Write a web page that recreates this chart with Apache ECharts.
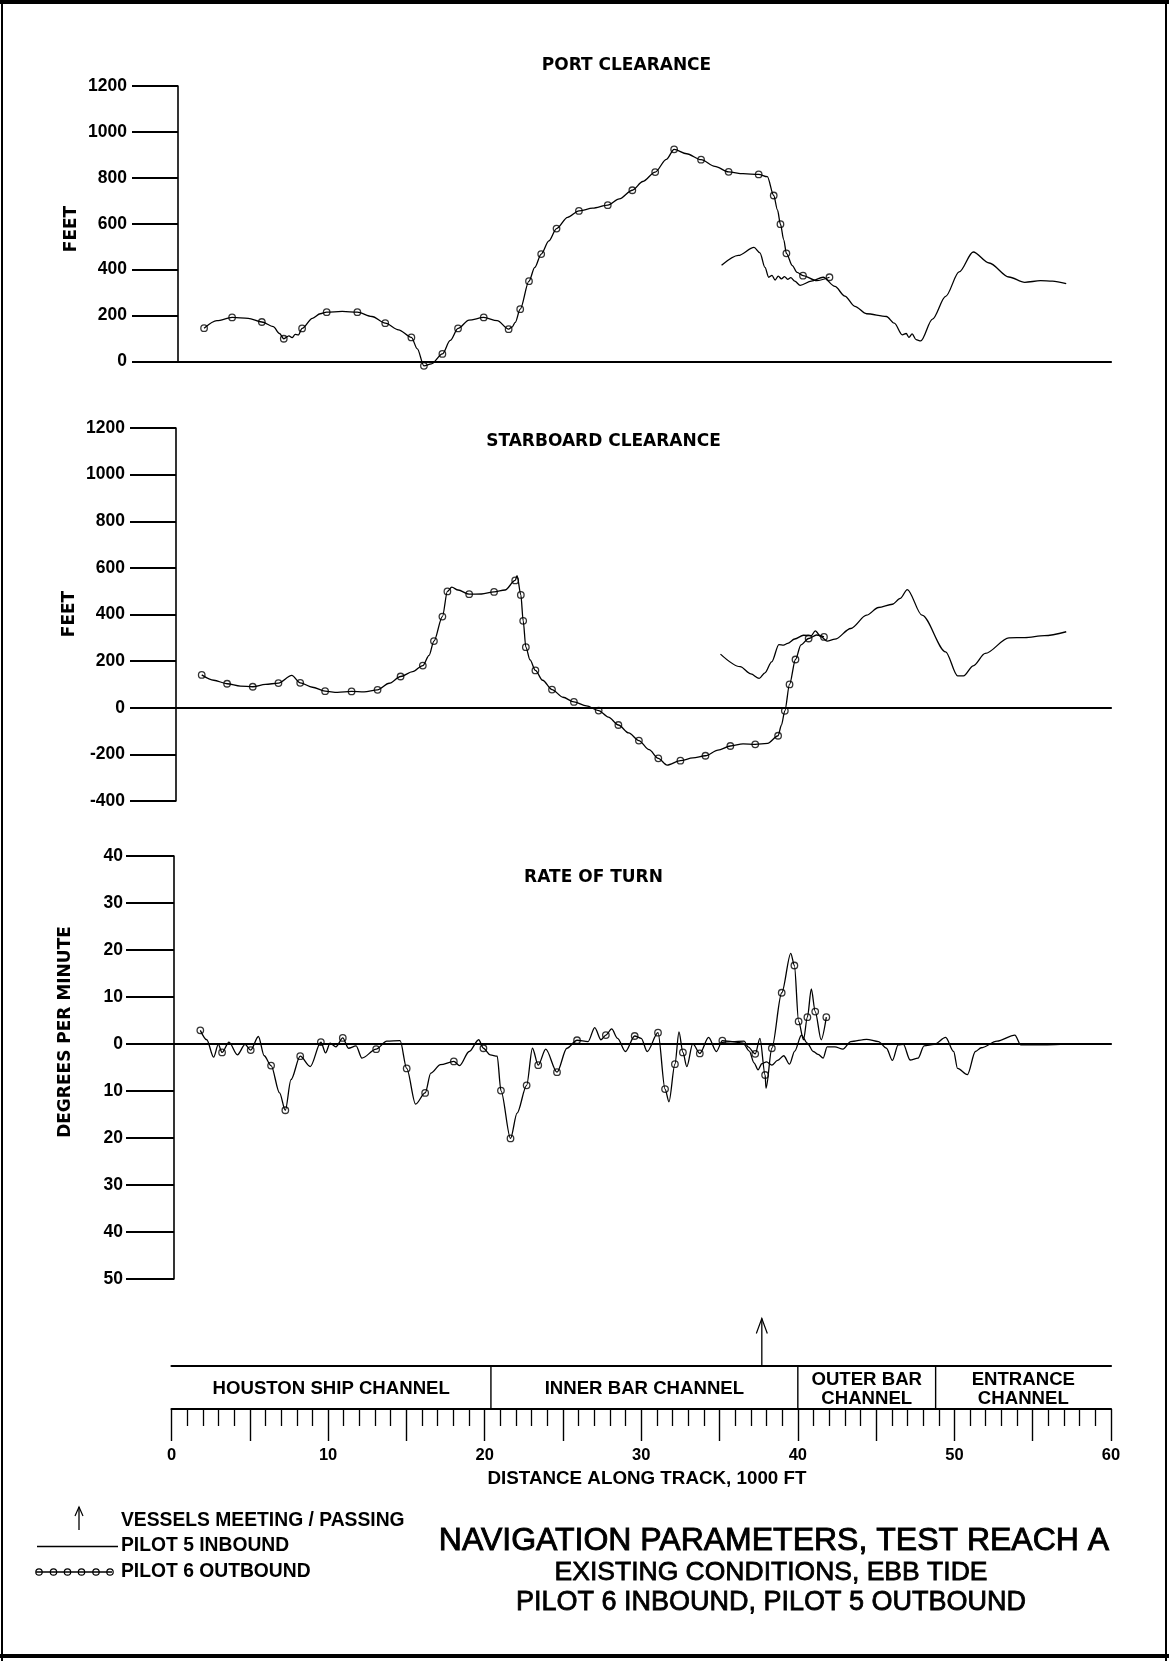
<!DOCTYPE html>
<html>
<head>
<meta charset="utf-8">
<script src="https://cdn.jsdelivr.net/npm/echarts@6/dist/echarts.min.js"></script>
<style>
  html, body { margin: 0; padding: 0; background: #fff; }
  #chart { width: 1169px; height: 1661px; }
</style>
</head>
<body>
<div id="chart"></div>
<script>
// Distance along track is in 1000 ft. Each curve is [distance, value].

// ---- Port clearance (feet) ----
const port6Marks = [
  [2.08,145],[3.87,192],[5.77,172],[7.17,99],[8.34,144],[9.91,215],[11.87,215],[13.65,167],
  [15.32,105],[16.12,-19],[17.3,33],[18.3,144],[19.94,192],[21.53,141],[22.27,228],[22.83,350],
  [23.61,468],[24.59,579],[26.02,656],[27.86,681],[29.43,746],[30.89,825],[32.1,924],[33.82,879],
  [35.58,826],[37.5,815],[38.46,723],[38.89,598],[39.27,471],[40.33,374],[42.02,367]
];
const port6Between = [
  [2.9,178],[4.9,188],[6.5,152],[6.9,122],[7.5,112],[7.7,104],[7.9,118],[8.1,116],[9.0,188],
  [9.5,208],[10.9,218],[12.8,196],[14.5,138],[15.7,55],[16.6,-10],[17.8,92],[19.0,180],[20.8,178],
  [21.75,150],[21.95,170],[23.2,410],[24.1,525],[25.3,628],[26.9,668],[28.6,708],[30.1,784],
  [31.6,880],[32.9,905],[34.7,850],[36.5,818],[38.05,805],[38.7,660],[39.1,530],[39.65,418],
  [39.95,388],[41.2,352]
];
const port5 = [
  [35.13,419],[36.2,462],[37.2,497],[37.58,473],[37.9,410],[38.14,367],[38.35,375],[38.55,355],
  [38.75,372],[38.95,360],[39.15,370],[39.35,358],[39.55,365],[39.8,350],[40.15,332],[40.86,350],
  [41.62,367],[42.37,327],[43.0,285],[43.64,240],[44.39,208],[45.66,196],[46.16,167],[46.67,116],
  [46.92,122],[47.1,105],[47.3,120],[47.55,95],[47.85,90],[48.6,185],[49.44,284],[50.3,390],
  [51.2,477],[52.22,429],[53.48,368],[54.49,345],[55.5,352],[56.26,350],[57.14,339]
];

// ---- Starboard clearance (feet) ----
const stbd6Marks = [
  [1.93,141],[3.55,103],[5.19,90],[6.83,106],[8.22,107],[9.81,71],[11.5,70],[13.16,77],
  [14.63,134],[16.05,181],[16.76,286],[17.3,391],[17.62,499],[19.01,487],[20.6,497],[21.95,546],
  [22.31,484],[22.46,373],[22.63,260],[23.24,160],[24.3,78],[25.7,25],[27.28,-12],[28.54,-74],
  [29.85,-141],[31.09,-217],[32.5,-227],[34.1,-206],[35.69,-164],[37.28,-157],[38.74,-120],
  [39.17,-13],[39.47,100],[39.85,207],[40.69,297],[41.67,304]
];
const stbd6Between = [
  [2.7,118],[4.4,93],[6.0,100],[7.68,139],[9.0,88],[10.6,66],[12.3,68],[13.9,105],[15.4,155],
  [16.45,225],[17.9,517],[18.3,505],[19.8,488],[21.3,505],[22.07,567],[22.9,205],[23.7,118],
  [25.0,45],[26.5,8],[27.9,-40],[29.2,-108],[30.5,-180],[31.65,-246],[33.3,-215],[34.9,-182],
  [36.5,-155],[38.07,-153],[38.95,-75],[40.2,270],[41.2,312]
];
const stbd5 = [
  [35.06,230],[36.32,176],[37.0,145],[37.53,126],[37.9,150],[38.33,197],[38.79,271],[39.09,269],
  [39.35,276],[39.8,295],[40.36,311],[40.86,309],[41.11,330],[41.49,304],[41.87,286],[42.37,294],
  [43.38,340],[44.39,397],[45.15,430],[46.04,444],[46.54,469],[46.99,507],[47.93,397],[49.44,240],
  [50.2,137],[50.58,137],[51.2,180],[51.97,233],[53.48,300],[54.49,301],[55.75,309],[57.14,326]
];

// ---- Rate of turn (degrees per minute; below zero plotted downward) ----
const turn6Marks = [
  [1.84,2.9],[3.23,-1.8],[5.06,-1.3],[6.36,-4.6],[7.27,-14.1],[8.22,-2.6],[9.54,0.4],[10.94,1.3],
  [13.07,-1.1],[15.02,-5.2],[16.2,-10.4],[18.03,-3.7],[19.92,-0.9],[21.04,-9.9],[21.65,-20.1],
  [22.68,-8.8],[23.42,-4.5],[24.62,-6.0],[25.9,0.8],[27.74,1.9],[29.58,1.7],[31.07,2.4],
  [31.52,-9.6],[32.15,-4.3],[32.66,-1.8],[33.74,-2.0],[35.18,0.7],[37.28,-2.1],[37.91,-6.6],
  [38.34,-0.9],[38.97,10.9],[39.78,16.7],[40.05,4.8],[40.61,5.7],[41.11,6.9],[41.82,5.7]
];
const turn6Between = [
  [2.25,0.9],[2.69,-2.8],[2.99,-0.1],[3.67,0.4],[4.21,-2.3],[4.7,-0.1],[5.55,1.6],[5.92,-2.5],
  [6.9,-10.4],[7.63,-7.6],[8.86,-4.8],[9.84,-1.9],[10.13,0.2],[10.5,-0.6],[11.3,-0.9],[11.79,-0.4],
  [12.16,-3.0],[13.75,0.6],[14.6,0.7],[15.59,-12.8],[16.56,-6.2],[17.18,-4.4],[18.4,-4.6],
  [19.01,-1.6],[19.62,0.9],[20.36,-2.3],[20.8,-2.6],[22.07,-14.7],[23.05,-0.9],[23.9,-1.1],
  [25.25,-0.9],[26.6,0.5],[27.03,3.5],[27.43,0.9],[28.11,3.2],[28.49,1.2],[28.99,-1.6],[30.0,1.2],
  [30.38,-1.6],[31.77,-12.3],[32.41,2.6],[32.91,-4.8],[33.29,0.1],[34.3,1.4],[34.8,-1.6],
  [35.81,0.5],[36.57,0.6],[36.82,-0.6],[37.58,1.2],[37.97,-9.4],[39.55,19.3],[40.36,0.9],
  [40.86,11.7],[41.49,0.9]
];
const turn5 = [
  [35.1,0.3],[35.8,0.5],[36.5,0.2],[36.9,-1.5],[37.2,-4.0],[37.46,-5.5],[37.7,-4.2],[38.0,-3.8],
  [38.34,-4.5],[38.7,-3.5],[39.1,-2.5],[39.47,-4.3],[39.8,-1.5],[40.23,1.9],[40.6,0.2],[40.99,-1.6],
  [41.3,-2.2],[41.62,-3.0],[41.87,-0.6],[42.37,-0.6],[42.88,-1.1],[43.38,0.5],[44.39,1.0],
  [45.15,0.5],[45.66,-0.9],[46.04,-3.5],[46.41,-0.2],[46.74,-0.1],[47.17,-3.4],[47.68,-3.0],
  [48.06,-0.4],[48.7,-0.1],[49.44,1.4],[49.95,-1.6],[50.2,-5.2],[50.83,-6.5],[51.34,-1.6],
  [51.71,-0.8],[52.72,0.6],[53.86,1.9],[54.24,-0.2],[55.76,-0.2],[56.77,-0.1]
];

// ---- Axes, channel reaches and events ----
const feetRangePort = [0, 1200];
const feetRangeStbd = [-400, 1200];
const feetStep = 200;
const turnRange = [-50, 40];
const turnStep = 10;
const distanceRange = [0, 60];
const distanceLabels = [0, 10, 20, 30, 40, 50, 60];
const channelReaches = [
  [0, 20.4, 'HOUSTON SHIP CHANNEL'],
  [20.4, 40, 'INNER BAR CHANNEL'],
  [40, 48.8, 'OUTER BAR\nCHANNEL'],
  [48.8, 60, 'ENTRANCE\nCHANNEL']
];
const vesselsMeeting = [37.7];

// ---------------------------------------------------------------
const INK = '#000';
const tickFont = { fontFamily: 'Liberation Sans', fontWeight: 'bold', fontSize: 17.5, color: INK };

function merged(a, b) { return a.concat(b).sort((p, q) => p[0] - q[0]); }

function plainLine(i, data) {
  return {
    type: 'line', xAxisIndex: i, yAxisIndex: i, data: data,
    smooth: 0.3, smoothMonotone: 'x', symbol: 'none', clip: false,
    lineStyle: { color: INK, width: 1.3 }, z: 3
  };
}
function circles(i, data) {
  return {
    type: 'scatter', xAxisIndex: i, yAxisIndex: i, data: data, clip: false,
    symbol: 'circle', symbolSize: 6.5,
    itemStyle: { color: 'rgba(255,255,255,0)', borderColor: INK, borderWidth: 1.3 }, z: 4
  };
}
function panelX(i) {
  return {
    type: 'value', gridIndex: i, min: distanceRange[0], max: distanceRange[1],
    axisLine: { show: true, onZero: true, lineStyle: { color: INK, width: 2.2 } },
    axisTick: { show: false }, axisLabel: { show: false }, splitLine: { show: false }
  };
}
function panelY(i, range, step, offset, tickLen, margin, fmt) {
  return {
    type: 'value', gridIndex: i, min: range[0], max: range[1], interval: step, offset: offset,
    axisLine: { show: true, onZero: false, lineStyle: { color: INK, width: 1.6 } },
    axisTick: { show: true, length: tickLen, lineStyle: { color: INK, width: 1.8 } },
    axisLabel: Object.assign({ margin: margin, formatter: fmt }, tickFont),
    splitLine: { show: false }
  };
}

const chart = echarts.init(document.getElementById('chart'));

function txt(x, y, text, font, opts) {
  opts = opts || {};
  return {
    type: 'text', x: x, y: y, silent: true, rotation: opts.rotation || 0,
    style: {
      text: text, font: font, fill: INK, align: opts.align || 'center', verticalAlign: 'middle',
      stroke: opts.stroke ? INK : null, lineWidth: opts.stroke || 0
    }
  };
}
const seg = (x1, y1, x2, y2, w) => ({
  type: 'line', silent: true, shape: { x1, y1, x2, y2 }, style: { stroke: INK, lineWidth: w }
});

const titleFont = 'bold 17px "DejaVu Sans"';
const keyFont = 'bold 19.3px "Liberation Sans"';

const graphics = [
  // page frame
  seg(0, 2, 1169, 2, 4), seg(2, 0, 2, 1661, 2), seg(1166, 0, 1166, 1661, 2), seg(0, 1656, 1169, 1656, 4),
  // panel titles
  txt(626.5, 66, 'PORT CLEARANCE', titleFont),
  txt(603.5, 442, 'STARBOARD CLEARANCE', titleFont),
  txt(593.5, 877.5, 'RATE OF TURN', titleFont),
  // vertical axis names
  txt(72, 229, 'FEET', titleFont, { rotation: Math.PI / 2 }),
  txt(70, 614, 'FEET', titleFont, { rotation: Math.PI / 2 }),
  txt(66, 1032, 'DEGREES PER MINUTE', titleFont, { rotation: Math.PI / 2 }),
  // distance axis name
  txt(647, 1479, 'DISTANCE ALONG TRACK, 1000 FT', 'bold 18.8px "Liberation Sans"'),
  // key
  seg(79, 1507, 79, 1530, 1.3),
  { type: 'polyline', silent: true, shape: { points: [[75, 1516], [79, 1507], [83, 1516]] },
    style: { stroke: INK, lineWidth: 1.2, fill: null } },
  txt(121, 1521, 'VESSELS MEETING / PASSING', keyFont, { align: 'left' }),
  seg(37, 1546.5, 118, 1546.5, 1.3),
  txt(121, 1546, 'PILOT 5 INBOUND', keyFont, { align: 'left' }),
  seg(36, 1572, 112, 1572, 1.3),
  txt(121, 1572, 'PILOT 6 OUTBOUND', keyFont, { align: 'left' }),
  // report title block
  txt(774, 1541.5, 'NAVIGATION PARAMETERS, TEST REACH A', '32px "Liberation Sans"', { stroke: 0.9 }),
  txt(771, 1572.5, 'EXISTING CONDITIONS, EBB TIDE', '26.5px "Liberation Sans"', { stroke: 0.8 }),
  txt(771, 1603, 'PILOT 6 INBOUND, PILOT 5 OUTBOUND', '27px "Liberation Sans"', { stroke: 0.8 })
];
[39, 53.5, 67.5, 81.5, 96, 110].forEach(cx => graphics.push({
  type: 'circle', silent: true, shape: { cx: cx, cy: 1572, r: 3.2 },
  style: { fill: 'rgba(255,255,255,0)', stroke: INK, lineWidth: 1.2 }
}));

const option = {
  animation: false,
  backgroundColor: '#fff',
  grid: [
    { left: 171.5, right: 58, top: 86, height: 275.5, outerBoundsMode: 'none' },
    { left: 171.5, right: 58, top: 428, height: 373, outerBoundsMode: 'none' },
    { left: 171.5, right: 58, top: 856, height: 423, outerBoundsMode: 'none' },
    { left: 171.5, right: 58, top: 1365.5, height: 43.5, outerBoundsMode: 'none' }
  ],
  xAxis: [
    panelX(0), panelX(1), panelX(2),
    {
      type: 'value', gridIndex: 3, position: 'bottom', min: distanceRange[0], max: distanceRange[1], interval: 5,
      axisLine: { show: true, onZero: false, lineStyle: { color: INK, width: 2.2 } },
      axisTick: { show: true, length: 32, lineStyle: { color: INK, width: 1.4 } },
      minorTick: { show: true, splitNumber: 5, length: 17, lineStyle: { color: INK, width: 1.3 } },
      axisLabel: {
        margin: 38, fontFamily: 'Liberation Sans', fontWeight: 'bold', fontSize: 16.5, color: INK,
        formatter: v => distanceLabels.indexOf(v) >= 0 ? String(v) : ''
      },
      splitLine: { show: false }, minorSplitLine: { show: false }
    },
    {
      type: 'value', gridIndex: 3, position: 'top', min: distanceRange[0], max: distanceRange[1],
      axisLine: { show: true, onZero: false, lineStyle: { color: INK, width: 2.2 } },
      axisTick: { show: false }, axisLabel: { show: false }, splitLine: { show: false }
    }
  ],
  yAxis: [
    panelY(0, feetRangePort, feetStep, -6.5, 46, 51, v => String(v)),
    panelY(1, feetRangeStbd, feetStep, -4.5, 46, 51, v => String(v)),
    panelY(2, turnRange, turnStep, -2.5, 48, 51, v => String(Math.abs(v))),
    { type: 'value', gridIndex: 3, min: 0, max: 1, show: false }
  ],
  series: [
    plainLine(0, merged(port6Marks, port6Between)), circles(0, port6Marks), plainLine(0, port5),
    plainLine(1, merged(stbd6Marks, stbd6Between)), circles(1, stbd6Marks), plainLine(1, stbd5),
    plainLine(2, merged(turn6Marks, turn6Between)), circles(2, turn6Marks), plainLine(2, turn5),
    {
      // channel reaches: dividers and names inside the band
      type: 'custom', xAxisIndex: 3, yAxisIndex: 3, data: channelReaches.map(r => [r[0], r[1]]), clip: false,
      renderItem: function (params, api) {
        const s = api.value(0), e = api.value(1);
        const top = api.coord([s, 1]), bot = api.coord([s, 0]);
        const mid = api.coord([(s + e) / 2, 0.5]);
        const kids = [];
        if (s > distanceRange[0]) {
          kids.push({ type: 'line', shape: { x1: top[0], y1: top[1], x2: bot[0], y2: bot[1] },
            style: { stroke: INK, lineWidth: 1.4 } });
        }
        kids.push({ type: 'text', x: mid[0], y: mid[1] + 2,
          style: { text: channelReaches[params.dataIndex][2], font: 'bold 18.6px "Liberation Sans"',
            fill: INK, align: 'center', verticalAlign: 'middle', lineHeight: 19 } });
        return { type: 'group', children: kids };
      }
    },
    {
      // meeting / passing arrow above the band
      type: 'custom', xAxisIndex: 3, yAxisIndex: 3, data: vesselsMeeting.map(v => [v]), clip: false,
      renderItem: function (params, api) {
        const p = api.coord([api.value(0), 1]);
        const tip = p[1] - 47;
        return { type: 'group', children: [
          { type: 'line', shape: { x1: p[0], y1: p[1], x2: p[0], y2: tip }, style: { stroke: INK, lineWidth: 1.3 } },
          { type: 'polyline', shape: { points: [[p[0] - 5.5, tip + 15], [p[0], tip], [p[0] + 5.5, tip + 15]] },
            style: { stroke: INK, lineWidth: 1.2, fill: null } }
        ] };
      }
    }
  ],
  graphic: graphics
};
chart.setOption(option);
</script>
</body>
</html>
